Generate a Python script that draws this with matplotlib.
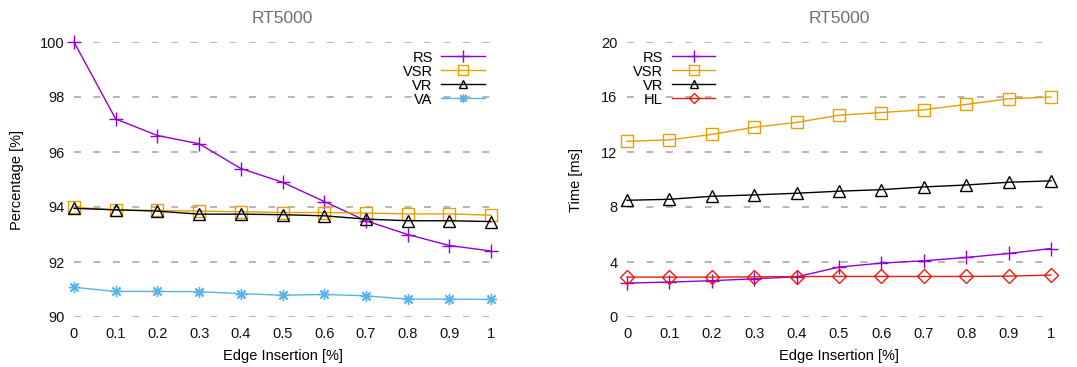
import matplotlib
matplotlib.use("Agg")
import matplotlib.pyplot as plt

plt.rcParams['font.family'] = ['Liberation Sans', 'DejaVu Sans']
plt.rcParams['lines.scale_dashes'] = False

x = [0, 0.1, 0.2, 0.3, 0.4, 0.5, 0.6, 0.7, 0.8, 0.9, 1]
xticklabels = ["0", "0.1", "0.2", "0.3", "0.4", "0.5", "0.6", "0.7", "0.8", "0.9", "1"]

# Left: percentage
pct_rs = [100, 97.2, 96.6, 96.3, 95.4, 94.9, 94.2, 93.5, 93.0, 92.6, 92.4]
pct_vsr = [94.0, 93.88, 93.88, 93.85, 93.83, 93.8, 93.8, 93.78, 93.75, 93.75, 93.7]
pct_vr = [93.95, 93.9, 93.85, 93.74, 93.74, 93.72, 93.68, 93.56, 93.5, 93.5, 93.47]
pct_va = [91.08, 90.93, 90.93, 90.92, 90.85, 90.79, 90.82, 90.77, 90.65, 90.65, 90.64]

# Right: time (ms)
t_rs = [2.47, 2.54, 2.64, 2.78, 2.92, 3.63, 3.92, 4.09, 4.33, 4.62, 4.98]
t_vsr = [12.78, 12.88, 13.28, 13.8, 14.15, 14.68, 14.87, 15.07, 15.46, 15.87, 16.0]
t_vr = [8.49, 8.56, 8.78, 8.88, 9.0, 9.15, 9.26, 9.46, 9.6, 9.8, 9.9]
t_hl = [2.9, 2.9, 2.9, 2.92, 2.94, 2.95, 2.95, 2.95, 2.95, 2.97, 3.05]

title = "RT5000"
xlabel = "Edge Insertion [%]"
ylabel_left = "Percentage [%]"
ylabel_right = "Time [ms]"

PURPLE = "#9400d3"
ORANGE = "#e69f00"
BLACK = "#000000"
CYAN = "#56b4e9"
RED = "#e51e10"

fig = plt.figure(figsize=(10.77, 3.67), dpi=100)
H = 367.0
W = 1077.0
ax1 = fig.add_axes([74 / W, 1 - 317 / H, (491 - 74) / W, (317 - 42) / H])
ax2 = fig.add_axes([627 / W, 1 - 317 / H, (1051 - 627) / W, (317 - 42) / H])


def style(ax, yticks, ylab, ylabpad):
    ax.set_xlim(0, 1)
    ax.set_xticks(x)
    ax.set_xticklabels(xticklabels)
    ax.set_yticks(yticks)
    ax.set_ylim(yticks[0], yticks[-1])
    for s in ax.spines.values():
        s.set_visible(False)
    ax.tick_params(length=0, labelsize=10.5, pad=7, colors="#111111")
    for yt in yticks:
        ax.axhline(yt, color="#b0b0b0", lw=1.3, dashes=(5, 9), zorder=0)
    ax.set_title(title, color="#707070", fontsize=12.5, pad=14)
    ax.set_xlabel(xlabel, fontsize=10.5, labelpad=6)
    ax.set_ylabel(ylab, fontsize=10.5, labelpad=ylabpad)


common = dict(lw=1.0, clip_on=False)
leg_kw = dict(frameon=False, markerfirst=False, handlelength=3.0, labelspacing=0.0,
              handletextpad=0.6, fontsize=10.5, borderaxespad=0.0, markerscale=0.8)

ax1.plot(x, pct_rs, color=PURPLE, marker="+", ms=10, mew=1.0, label="RS", **common)
ax1.plot(x, pct_vsr, color=ORANGE, marker="s", ms=9, mfc="none", mew=1.0, label="VSR", **common)
ax1.plot(x, pct_vr, color=BLACK, marker="^", ms=8, mfc="none", mew=1.0, label="VR", **common)
ax1.plot(x, pct_va, color=CYAN, marker=(8, 2, 0), ms=8, mew=1.0, label="VA", **common)
style(ax1, [90, 92, 94, 96, 98, 100], ylabel_left, 11)
ax1.legend(loc="upper right", bbox_to_anchor=(1.0, 0.99), **leg_kw)

ax2.plot(x, t_rs, color=PURPLE, marker="+", ms=10, mew=1.0, label="RS", **common)
ax2.plot(x, t_vsr, color=ORANGE, marker="s", ms=9, mfc="none", mew=1.0, label="VSR", **common)
ax2.plot(x, t_vr, color=BLACK, marker="^", ms=8, mfc="none", mew=1.0, label="VR", **common)
ax2.plot(x, t_hl, color=RED, marker="D", ms=7, mfc="none", mew=1.0, label="HL", **common)
style(ax2, [0, 4, 8, 12, 16, 20], ylabel_right, 13)
ax2.legend(loc="upper left", bbox_to_anchor=(0.0, 0.99), **leg_kw)

fig.savefig("out.png", dpi=100)
